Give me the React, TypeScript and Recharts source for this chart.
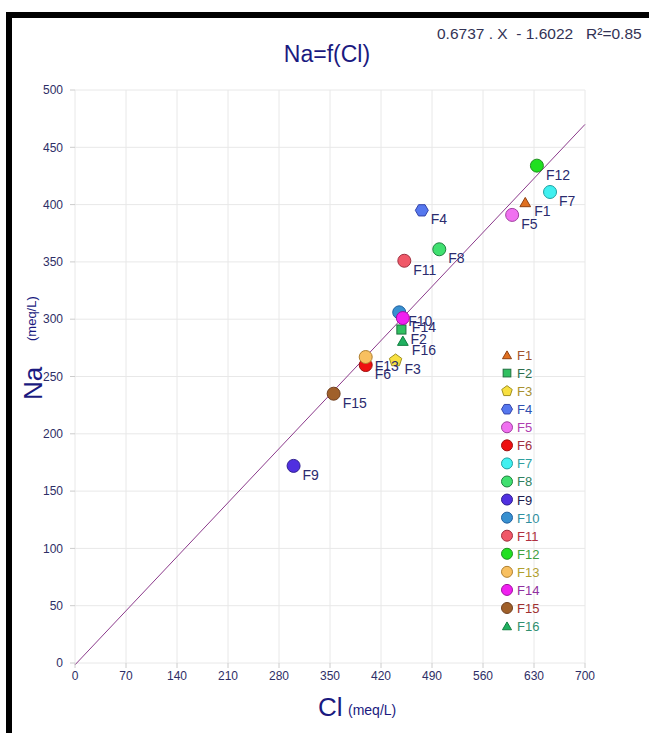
import React from 'react';
import { ScatterChart, Scatter, XAxis, YAxis, CartesianGrid, ReferenceLine } from 'recharts';

// samples F1..F16, Cl and Na in meq/L
const sampleNames = ['F1', 'F2', 'F3', 'F4', 'F5', 'F6', 'F7', 'F8', 'F9', 'F10', 'F11', 'F12', 'F13', 'F14', 'F15', 'F16'];
const clValues = [618, 448, 440, 476, 600, 399, 652, 500, 300, 445, 452, 634, 399, 450, 355, 450];
const naValues = [402, 291, 264, 395, 391, 260, 411, 361, 172, 306, 351, 434, 267, 301, 235, 281];

const markerShapes = ['triangle', 'square', 'pentagon', 'hexagon', 'circle', 'circle', 'circle', 'circle', 'circle', 'circle', 'circle', 'circle', 'circle', 'circle', 'circle', 'triangle'];
const fillColors = ['#e07020', '#30c060', '#f8e040', '#5577ee', '#f070f0', '#ee1010', '#40f0f0', '#40e070', '#5030e0', '#3890d0', '#f05868', '#20e020', '#f8c060', '#f020f0', '#a0602a', '#20b060'];
const strokeColors = ['#904010', '#207040', '#a09020', '#3344aa', '#a040a0', '#a01010', '#20a0a0', '#208040', '#302090', '#2060a0', '#a03040', '#209020', '#b08030', '#a010a0', '#704020', '#108040'];
const legendTextColors = ['#a0522d', '#2e6e4e', '#a89030', '#3050b0', '#b040b0', '#a03040', '#30a0a0', '#308060', '#202050', '#3090a0', '#b03040', '#40a040', '#b0a030', '#9030a0', '#a03030', '#309070'];

const xTicks = [0, 70, 140, 210, 280, 350, 420, 490, 560, 630, 700];
const yTicks = [0, 50, 100, 150, 200, 250, 300, 350, 400, 450, 500];

const slope = 0.6737;
const intercept = -1.6022;
const rSquared = 0.85;

const FONT = "'Liberation Sans', Arial, sans-serif";
const NAVY = '#1a1a80';

function Marker({ kind, cx, cy, r, fill, stroke }: any) {
    if (kind === 'circle') return <circle cx={cx} cy={cy} r={r} fill={fill} stroke={stroke} strokeWidth={1} />;
    if (kind === 'square') {
        const h = r * 0.7;
        return <rect x={cx - h} y={cy - h} width={h * 2} height={h * 2} fill={fill} stroke={stroke} strokeWidth={1} />;
    }
    const sides = kind === 'triangle' ? 3 : kind === 'pentagon' ? 5 : 6;
    const start = kind === 'hexagon' ? 0 : -Math.PI / 2;
    const rr = kind === 'triangle' ? r * 0.95 : r;
    const dy = kind === 'triangle' ? r * 0.2 : 0;
    const pts = [];
    for (let i = 0; i < sides; i++) {
        const a = start + (i * 2 * Math.PI) / sides;
        pts.push(`${cx + rr * Math.cos(a)},${cy + dy + rr * Math.sin(a)}`);
    }
    return <polygon points={pts.join(' ')} fill={fill} stroke={stroke} strokeWidth={1} />;
}

export default function App() {
    const series = sampleNames.map((name, i) => ({ name, data: [{ cl: clValues[i], na: naValues[i] }] }));
    const lineEnd = xTicks[xTicks.length - 1];

    return (
        <div style={{ position: 'absolute', left: 0, top: 0, width: 649, height: 733, background: '#fff', fontFamily: FONT }}>
            <div style={{ position: 'absolute', left: 6, top: 12, width: 643, height: 6, background: '#000' }} />
            <div style={{ position: 'absolute', left: 6, top: 12, width: 6, height: 721, background: '#000' }} />

            <div style={{ position: 'absolute', left: 437, top: 25, fontSize: 15.5, color: '#333355', whiteSpace: 'pre' }}>
                {`${slope} . X  - ${Math.abs(intercept)}   R²=${rSquared}`}
            </div>
            <div style={{ position: 'absolute', left: 0, width: 654, top: 41, textAlign: 'center', fontSize: 23, color: NAVY }}>Na=f(Cl)</div>

            <ScatterChart width={649} height={733} margin={{ top: 90, right: 64, left: 0, bottom: 40 }} style={{ position: 'absolute', left: 0, top: 0 }}>
                <CartesianGrid stroke="#e8e8e8" horizontalValues={yTicks} verticalValues={xTicks} />
                <XAxis
                    type="number"
                    dataKey="cl"
                    domain={[0, 700]}
                    ticks={xTicks}
                    height={30}
                    axisLine={false}
                    tickLine={{ stroke: '#cccccc' }}
                    tickSize={5}
                    tickMargin={3}
                    tick={{ fontSize: 12, fill: '#2e2e66', fontFamily: FONT }}
                />
                <YAxis
                    type="number"
                    dataKey="na"
                    domain={[0, 500]}
                    ticks={yTicks}
                    width={75}
                    axisLine={false}
                    tickLine={{ stroke: '#cccccc' }}
                    tickSize={5}
                    tickMargin={7}
                    tick={{ fontSize: 12, fill: '#2e2e66', fontFamily: FONT }}
                />
                <ReferenceLine
                    segment={[{ x: 0, y: intercept }, { x: lineEnd, y: slope * lineEnd + intercept }]}
                    stroke="#8b3a8b"
                    strokeWidth={1}
                    ifOverflow="visible"
                />
                {series.map((s, i) => (
                    <Scatter
                        key={s.name}
                        name={s.name}
                        data={s.data}
                        isAnimationActive={false}
                        shape={(p: any) => (
                            <g>
                                <Marker kind={markerShapes[i]} cx={p.cx} cy={p.cy} r={6.5} fill={fillColors[i]} stroke={strokeColors[i]} />
                                <text x={p.cx + 9} y={p.cy + 14} fontSize={14} fill="#2b2b6e" fontFamily={FONT}>{s.name}</text>
                            </g>
                        )}
                    />
                ))}
            </ScatterChart>

            <svg width={70} height={290} style={{ position: 'absolute', left: 495, top: 345 }}>
                {sampleNames.map((name, i) => (
                    <g key={name}>
                        <Marker kind={markerShapes[i]} cx={12} cy={10 + i * 18.07} r={5.5} fill={fillColors[i]} stroke={strokeColors[i]} />
                        <text x={22} y={15 + i * 18.07} fontSize={13} fill={legendTextColors[i]} fontFamily={FONT}>{name}</text>
                    </g>
                ))}
            </svg>

            <div style={{ position: 'absolute', left: 18, top: 400, transform: 'rotate(-90deg)', transformOrigin: '0 0', fontSize: 26, color: NAVY, whiteSpace: 'nowrap' }}>Na</div>
            <div style={{ position: 'absolute', left: 24, top: 341, transform: 'rotate(-90deg)', transformOrigin: '0 0', fontSize: 13, color: NAVY, whiteSpace: 'nowrap' }}>(meq/L)</div>

            <div style={{ position: 'absolute', left: 318, top: 692, fontSize: 26, color: NAVY, whiteSpace: 'nowrap' }}>Cl</div>
            <div style={{ position: 'absolute', left: 348, top: 702, fontSize: 14, color: NAVY, whiteSpace: 'nowrap' }}>(meq/L)</div>
        </div>
    );
}
